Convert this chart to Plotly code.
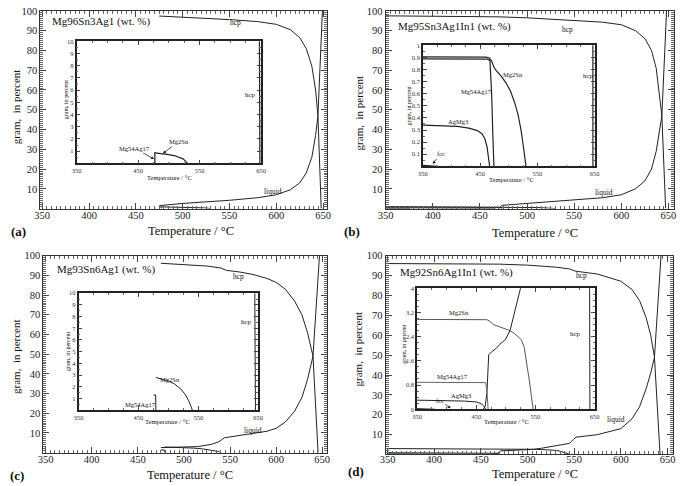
import plotly.graph_objects as go

W, H = 685, 486
FONT = "Liberation Serif, Times New Roman, serif"
LC = "#222"

# ---------------- data (temperature in °C, amount in gram %) ----------------
# (a) Mg96Sn3Ag1
T_hcp_a = [475, 500, 550, 580, 600, 615, 625, 632, 638, 642, 644.5, 648]
hcp_a = [97.4, 96.9, 95.6, 94.6, 93.2, 90.5, 86.5, 81, 72, 60, 47, 0]
T_liq_a = [475, 500, 550, 580, 600, 615, 625, 632, 638, 642, 644.5, 649.3]
liq_a = [1.5, 2.6, 4.2, 5.5, 7, 9.5, 13, 18, 26, 37, 47, 100]
T_mg2sn_a = [477, 490, 500, 510, 518, 523, 527, 530]
mg2sn_a = [0.86, 0.8, 0.72, 0.62, 0.5, 0.37, 0.18, 0]
T_mg54_a = [476, 477, 477.3]
mg54_a = [0.86, 0.86, 0]

# (b) Mg95Sn3Ag1In1
T_hcp_b = [350, 460, 470, 500, 550, 580, 600, 615, 625, 632, 637, 640, 643, 647]
hcp_b = [97.5, 97.3, 97.0, 96.5, 95.3, 94.3, 93, 90, 86, 80, 71, 60, 47, 0]
T_liq_b = [470, 473, 480, 500, 550, 580, 600, 615, 625, 632, 637, 640, 643, 648]
liq_b = [0, 1.6, 1.9, 2.6, 4.2, 5.5, 7, 10, 14, 20, 29, 38, 47, 100]
T_mg2sn_b = [350, 460, 466, 470, 474, 478, 486, 495, 503, 510, 516, 521, 525, 528, 530]
mg2sn_b = [0.905, 0.903, 0.895, 0.87, 0.82, 0.79, 0.75, 0.69, 0.62, 0.53, 0.43, 0.31, 0.18, 0.07, 0]
T_mg54_b = [350, 463, 467, 470, 472.5, 474]
mg54_b = [0.888, 0.886, 0.875, 0.6, 0.2, 0]
T_agmg3_b = [350, 380, 410, 430, 445, 453, 458, 462, 465, 466.5]
agmg3_b = [0.34, 0.337, 0.33, 0.315, 0.295, 0.27, 0.23, 0.16, 0.06, 0]
T_fcc_b = [350, 365, 372, 375]
fcc_b = [0.008, 0.006, 0.003, 0]

# (c) Mg93Sn6Ag1
T_hcp_c = [475, 500, 525, 540, 546, 560, 575, 590, 600, 610, 620, 628, 634, 638, 640, 645.5]
hcp_c = [96.2, 95.6, 94.8, 93.8, 92.6, 91.8, 90.5, 88.5, 86.5, 83, 77, 70, 61, 53, 49, 0]
T_liq_c = [475, 500, 515, 530, 538, 544, 555, 575, 590, 600, 610, 620, 628, 634, 638, 640, 647]
liq_c = [2.5, 2.7, 3.0, 4.2, 5.5, 7.5, 8.3, 9.5, 10.8, 12.3, 15.5, 21, 28, 37, 45, 49, 100]
T_mg2sn_c = [479, 490, 500, 510, 520, 528, 534, 538, 540]
mg2sn_c = [2.8, 2.65, 2.5, 2.25, 1.85, 1.35, 0.8, 0.3, 0]
T_mg54_c = [475, 478.7, 479]
mg54_c = [1.3, 1.3, 0]

# (d) Mg92Sn6Ag1In1
T_hcp_d = [350, 460, 470, 500, 530, 545, 551, 575, 600, 612, 620, 627, 632, 636, 642]
hcp_d = [96.1, 96.0, 95.8, 95.3, 94.3, 93.4, 92.3, 90.8, 87.2, 83, 77.5, 69, 60, 49, 0]
T_liq_d = [462, 465, 468, 471, 476, 483, 490, 499, 507, 515, 520, 526, 535, 545, 549, 552,
           575, 600, 612, 620, 627, 632, 636, 643]
liq_d = [0, 0.1, 0.55, 1.8, 1.9, 2.0, 2.15, 2.3, 2.6, 3.15, 3.5, 3.95, 4.6, 5.6, 7.5, 8.7,
         10, 13, 18, 24, 33, 41, 49, 100]
T_mg2sn_d = [350, 468, 472, 479, 490, 500, 507, 515, 526, 531, 535, 538, 540, 543, 546]
mg2sn_d = [2.97, 2.96, 2.92, 2.8, 2.72, 2.66, 2.6, 2.5, 2.3, 2.05, 1.6, 1.25, 0.9, 0.45, 0]
T_mg54_d = [350, 466, 468, 470]
mg54_d = [0.89, 0.88, 0.6, 0]
T_agmg3_d = [350, 400, 430, 450, 458, 462, 464.5, 466]
agmg3_d = [0.3, 0.29, 0.27, 0.24, 0.19, 0.12, 0.05, 0]
T_fcc_d = [350, 365, 375, 380]
fcc_d = [0.02, 0.015, 0.005, 0]

main_xticks = [350, 400, 450, 500, 550, 600, 650]
main_yticks = [10, 20, 30, 40, 50, 60, 70, 80, 90, 100]
inset_xticks = [350, 450, 550, 650]
inset_yticks_10 = [1, 2, 3, 4, 5, 6, 7, 8, 9, 10]
inset_yticks_b = [0.1, 0.2, 0.3, 0.4, 0.5, 0.6, 0.7, 0.8, 0.9, 1]
inset_yticks_d = [0, 0.8, 1.6, 2.4, 3.2, 4]


def fx(px):
    return px / W


def fy(py):
    return 1 - py / H


fig = go.Figure()


def sfx(n):
    return "" if n == 1 else str(n)


def add(T, Y, n, color=LC, width=1):
    fig.add_trace(go.Scatter(x=T, y=Y, mode="lines", line=dict(color=color, width=width),
                             xaxis="x" + sfx(n), yaxis="y" + sfx(n),
                             showlegend=False, hoverinfo="skip"))


# main panels (axes 1-4)
for T, Y in [(T_hcp_a, hcp_a), (T_liq_a, liq_a), (T_mg2sn_a, mg2sn_a), (T_mg54_a, mg54_a)]:
    add(T, Y, 1)
for T, Y in [(T_hcp_b, hcp_b), (T_liq_b, liq_b), (T_mg2sn_b, mg2sn_b), (T_mg54_b, mg54_b),
             (T_agmg3_b, agmg3_b), (T_fcc_b, fcc_b)]:
    add(T, Y, 2)
for T, Y in [(T_hcp_c, hcp_c), (T_liq_c, liq_c), (T_mg2sn_c, mg2sn_c), (T_mg54_c, mg54_c)]:
    add(T, Y, 3)
for T, Y in [(T_hcp_d, hcp_d), (T_liq_d, liq_d), (T_mg2sn_d, mg2sn_d), (T_mg54_d, mg54_d),
             (T_agmg3_d, agmg3_d), (T_fcc_d, fcc_d)]:
    add(T, Y, 4)

# insets (axes 5-8)
for T, Y in [(T_hcp_a, hcp_a), (T_mg2sn_a, mg2sn_a), (T_mg54_a, mg54_a)]:
    add(T, Y, 5, width=1.2)
for T, Y in [(T_hcp_b, hcp_b), (T_mg2sn_b, mg2sn_b), (T_mg54_b, mg54_b),
             (T_agmg3_b, agmg3_b), (T_fcc_b, fcc_b)]:
    add(T, Y, 6, width=1.2)
for T, Y in [(T_hcp_c, hcp_c), (T_mg2sn_c, mg2sn_c), (T_mg54_c, mg54_c)]:
    add(T, Y, 7)
add(T_hcp_d, hcp_d, 8)
add(T_liq_d, liq_d, 8)
add(T_mg2sn_d, mg2sn_d, 8, color="#555")
add(T_mg54_d, mg54_d, 8, color="#666")
add(T_agmg3_d, agmg3_d, 8)
add(T_fcc_d, fcc_d, 8)

layout = dict(width=W, height=H, margin=dict(l=0, r=0, t=0, b=0),
              paper_bgcolor="white", plot_bgcolor="rgba(0,0,0,0)", showlegend=False,
              font=dict(family=FONT, color="#111"))

mains = [
    (1, (33, 325), (6, 207), [348, 654], -3),
    (2, (385, 679), (6, 207), [350, 656], -3),
    (3, (36, 325), (255, 455), [347.5, 655], -3),
    (4, (385, 678), (255, 457), [348, 656], -5),
]
for n, xp, yp, xr, so in mains:
    s = sfx(n)
    layout["xaxis" + s] = dict(domain=[fx(xp[0]), fx(xp[1])], range=xr, anchor="y" + s,
                               tickmode="array", tickvals=main_xticks, ticks="inside", ticklen=6,
                               mirror="ticks", showline=True, linecolor="#333", linewidth=1,
                               tickfont=dict(size=10.5, family=FONT, color="#222"),
                               ticklabelstandoff=so,
                               minor=dict(ticks="inside", ticklen=3, tickmode="linear", tick0=350,
                                          dtick=5, tickcolor="#666"),
                               showgrid=False, zeroline=False, fixedrange=True)
    layout["yaxis" + s] = dict(domain=[fy(yp[1]), fy(yp[0])], range=[0, 100], anchor="x" + s,
                               tickmode="array", tickvals=main_yticks, ticks="inside", ticklen=6,
                               mirror="ticks", showline=True, linecolor="#333", linewidth=1,
                               tickfont=dict(size=10.5, family=FONT, color="#222"),
                               minor=dict(ticks="inside", ticklen=3, tickmode="linear", tick0=0,
                                          dtick=1, tickcolor="#666"),
                               showgrid=False, zeroline=False, fixedrange=True)

insets = [
    (5, (70, 258), (37, 161), [0, 10], inset_yticks_10, [str(v) for v in inset_yticks_10], 0.5),
    (6, (423, 598), (41, 164), [0, 1], inset_yticks_b, ["0.1", "0.2", "0.3", "0.4", "0.5", "0.6", "0.7", "0.8", "0.9", "1"], 0.05),
    (7, (72, 255), (293, 412), [0, 10], inset_yticks_10, [str(v) for v in inset_yticks_10], 0.5),
    (8, (417, 598), (288, 411), [0, 4], inset_yticks_d, ["0", "0.8", "1.6", "2.4", "3.2", "4"], 0.2),
]
for n, xp, yp, yr, yt, ytt, ymin in insets:
    s = sfx(n)
    layout["xaxis" + s] = dict(domain=[fx(xp[0]), fx(xp[1])], range=[350, 650], anchor="y" + s,
                               tickmode="array", tickvals=inset_xticks, ticks="inside", ticklen=4,
                               mirror="ticks", showline=True, linecolor="#222", linewidth=1.5,
                               tickfont=dict(size=6.5, family=FONT, color="#333"),
                               minor=dict(ticks="inside", ticklen=2, tickmode="linear", tick0=350,
                                          dtick=25, tickcolor="#666"),
                               showgrid=False, zeroline=False, fixedrange=True)
    layout["yaxis" + s] = dict(domain=[fy(yp[1]), fy(yp[0])], range=yr, anchor="x" + s,
                               tickmode="array", tickvals=yt, ticktext=ytt, ticks="inside", ticklen=4,
                               mirror="ticks", showline=True, linecolor="#222", linewidth=1.5,
                               tickfont=dict(size=6.5, family=FONT, color="#333"),
                               minor=dict(ticks="inside", ticklen=2, tickmode="linear", tick0=0,
                                          dtick=ymin, tickcolor="#666"),
                               showgrid=False, zeroline=False, fixedrange=True)

ann = []


def txt(px, py, text, size, xanchor="center", bold=False, angle=0, color="#111"):
    ann.append(dict(x=fx(px), y=fy(py), xref="paper", yref="paper", text=("<b>%s</b>" % text) if bold else text,
                    showarrow=False, xanchor=xanchor, yanchor="middle", textangle=angle,
                    font=dict(size=size, family=FONT, color=color)))


# titles inside main panels
txt(43, 17, "Mg96Sn3Ag1 (wt. %)", 11, "left")
txt(395, 22, "Mg95Sn3Ag1In1 (wt. %)", 11, "left")
txt(48, 269, "Mg93Sn6Ag1 (wt. %)", 11, "left")
txt(398, 272, "Mg92Sn6Ag1In1 (wt. %)", 11, "left")

# phase labels main
for px, py, t in [(232, 18, "hcp"), (270, 190, "liquid"), (570, 25, "hcp"), (608, 191, "liquid"),
                  (235, 276, "hcp"), (250, 433, "liquid"), (585, 275, "hcp"), (620, 421, "liquid")]:
    txt(px, py, t, 7.5)

# panel letters
txt(11, 230, "(a)", 13, bold=True)
txt(351, 230, "(b)", 13, bold=True)
txt(9, 478, "(c)", 13, bold=True)
txt(355, 474, "(d)", 13, bold=True)

# main axis titles
for px, py in [(187, 230), (537, 232), (186, 478), (537, 477)]:
    txt(px, py, "Temperature / °C", 12.5)
for px, py in [(8, 103), (358, 110), (8, 357), (357, 350)]:
    txt(px, py, "gram,  in percent", 11, angle=-90)

# inset axis titles
for px, py in [(165, 175), (513, 177), (163, 423), (508, 423)]:
    txt(px, py, "Temperature / °C", 6.5)
for px, py in [(60, 96), (409, 103), (61, 352), (404, 345)]:
    txt(px, py, "gram, in percent", 6, angle=-90)

# inset phase labels
txt(247, 92, "hcp", 7)
txt(515, 71, "Mg2Sn", 6.5)
txt(478, 88, "Mg54Ag17", 6.5)
txt(459, 118, "AgMg3", 6.5)
txt(592, 72, "hcp", 7)
txt(242.7, 322, "hcp", 7)
txt(165, 381, "Mg2Sn", 6.5)
txt(135, 406, "Mg54Ag17", 6.5)
txt(460, 313, "Mg2Sn", 6.5)
txt(578, 335, "hcp", 7)
txt(453, 378, "Mg54Ag17", 6.5)
txt(462, 397, "AgMg3", 6.5)


def arrow(n, x, y, axp, ayp, text, size=6.5):
    s = sfx(n)
    ann.append(dict(x=x, y=y, xref="x" + s, yref="y" + s, text=text, showarrow=True,
                    ax=axp, ay=ayp, arrowhead=2, arrowsize=0.8, arrowwidth=0.8, arrowcolor="#222",
                    font=dict(size=size, family=FONT, color="#111")))


arrow(5, 476, 0.35, -20, -11, "Mg54Ag17")
arrow(5, 490, 0.8, 16, -12, "Mg2Sn")
arrow(6, 367, 0.02, 8, -10, "fcc")
arrow(8, 407, 0.03, -11, -8, "fcc")

layout["annotations"] = ann
fig.update_layout(**layout)
fig.write_html("out.html", config={"displayModeBar": False})

# remove the default page margin so the figure sits at the window's top-left corner
with open("out.html", "r", encoding="utf-8") as f:
    html = f.read()
html = html.replace("<head>", "<head><style>html,body{margin:0;padding:0;overflow:hidden;}</style>", 1)
with open("out.html", "w", encoding="utf-8") as f:
    f.write(html)
